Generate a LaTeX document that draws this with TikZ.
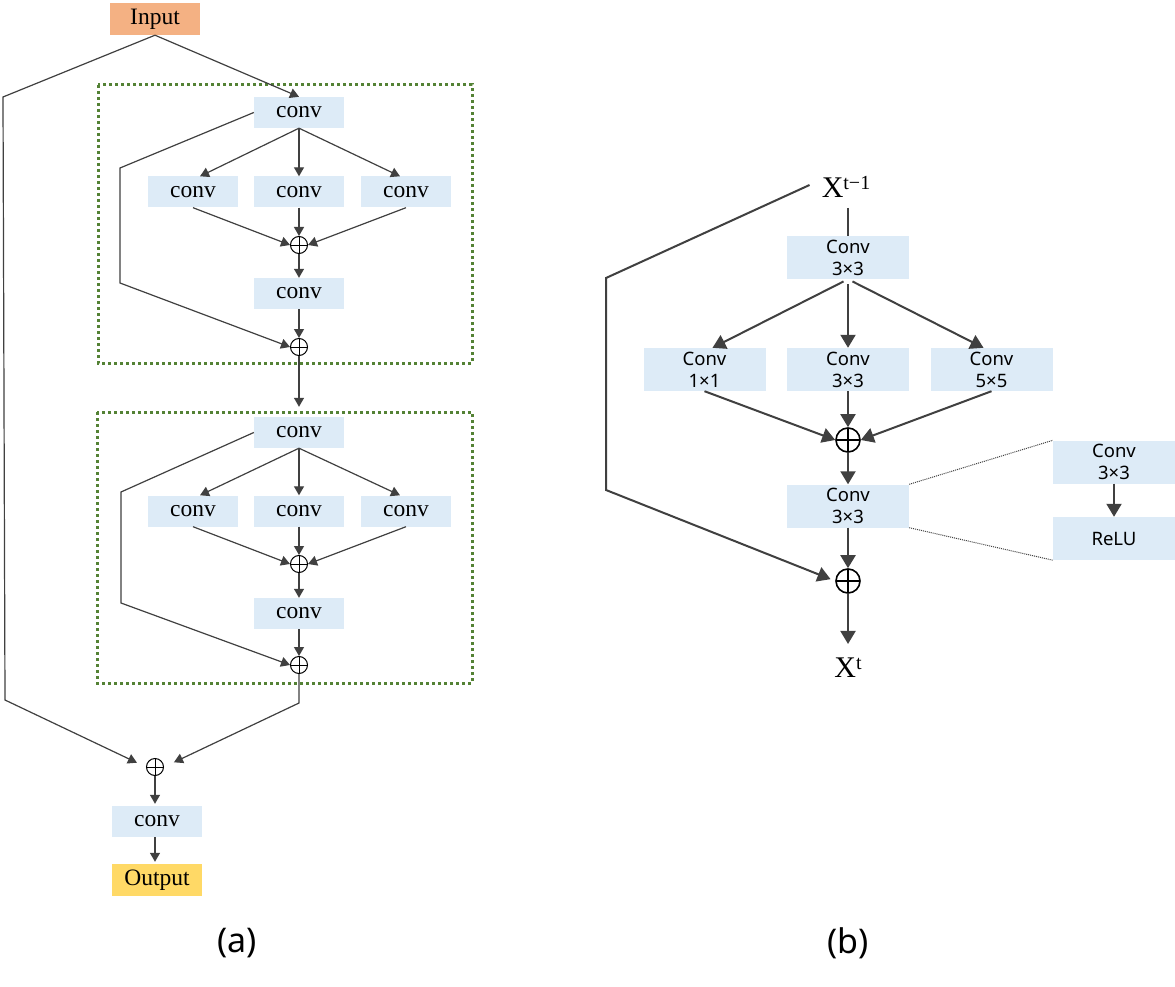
\documentclass[tikz,border=0pt]{standalone}
\usepackage{fontspec}
\setmainfont{Liberation Serif}
\newfontfamily\sansb{Noto Sans}
\usetikzlibrary{arrows.meta,calc}
\definecolor{boxblue}{HTML}{DDEBF7}
\definecolor{inorange}{HTML}{F4B183}
\definecolor{outyellow}{HTML}{FFD966}
\definecolor{dotgreen}{HTML}{548235}
\definecolor{lgray}{HTML}{404040}
\begin{document}
\begin{tikzpicture}[x=1pt,y=-1pt,
  abox/.style={fill=boxblue, minimum width=90pt, minimum height=31pt, inner sep=0pt, font=\fontsize{23.5}{25}\selectfont},
  bbox/.style={fill=boxblue, minimum width=122pt, minimum height=43pt, inner sep=0pt, align=center, font=\sansb\fontsize{18.5}{22}\selectfont},
  aline/.style={draw=lgray, line width=1.2pt},
  aarr/.style={aline, -{Triangle[length=9pt,width=10pt]}},
  bline/.style={draw=lgray, line width=2pt},
  barr/.style={bline, -{Triangle[length=13pt,width=15pt]}},
  asum/.style={circle, draw=black, line width=1pt, minimum size=17pt, inner sep=0pt,
    path picture={\draw[line width=1pt] (path picture bounding box.north) -- (path picture bounding box.south) (path picture bounding box.west) -- (path picture bounding box.east);}},
  bsum/.style={circle, draw=black, line width=1.6pt, minimum size=24pt, inner sep=0pt,
    path picture={\draw[line width=1.6pt] (path picture bounding box.north) -- (path picture bounding box.south) (path picture bounding box.west) -- (path picture bounding box.east);}},
  frame/.style={draw=dotgreen, line width=3pt, dash pattern=on 3pt off 3pt},
  xlabel/.style={font=\fontsize{30}{32}\selectfont, inner sep=2pt},
  panellabel/.style={font=\sansb\fontsize{34}{36}\selectfont}
]
\fill[white] (0,0) rectangle (1175,987);
\useasboundingbox (0,0) rectangle (1175,987);

% ---------- panel (a) ----------
\draw[frame] (98,85) rectangle (472,363);
\draw[frame] (97,412) rectangle (472,683);

\node[fill=inorange, minimum width=90pt, minimum height=32pt, inner sep=0pt, font=\fontsize{23.5}{25}\selectfont] (inp) at (155,19) {Input};
\node[abox] (c1) at (299,112.5) {conv};
\node[abox] (b1l) at (193,192) {conv};
\node[abox] (b1m) at (299,192) {conv};
\node[abox] (b1r) at (406,192) {conv};
\node[asum] (s1) at (299,245) {};
\node[abox] (c2) at (299,293.5) {conv};
\node[asum] (s2) at (299,347) {};

\node[abox] (c3) at (299,432.5) {conv};
\node[abox] (b2l) at (193,511) {conv};
\node[abox] (b2m) at (299,511) {conv};
\node[abox] (b2r) at (406,511) {conv};
\node[asum] (s3) at (299,564) {};
\node[abox] (c4) at (299,613.5) {conv};
\node[asum] (s4) at (299,665) {};

\node[asum] (sf) at (155,767) {};
\node[abox] (cf) at (157,821.5) {conv};
\node[fill=outyellow, minimum width=90pt, minimum height=32pt, inner sep=0pt, font=\fontsize{23.5}{25}\selectfont] (out) at (157,880) {Output};

\draw[aarr] (inp.south) -- (c1.north);
\draw[aarr, shorten >=10pt] (inp.south) -- (3,97) -- (5,700) -- (sf.west);

\draw[aarr] (c1.south) -- ($(b1l.north)+(7,0)$);
\draw[aarr] (c1.south) -- (b1m.north);
\draw[aarr] (c1.south) -- ($(b1r.north)+(-6,0)$);
\draw[aarr] (b1l.south) -- (s1.west);
\draw[aarr] (b1m.south) -- (s1.north);
\draw[aarr] (b1r.south) -- (s1.east);
\draw[aarr] (s1.south) -- (c2.north);
\draw[aarr] (c2.south) -- (s2.north);
\draw[aarr] (c1.west) -- (120,168) -- (120,283) -- (s2.west);
\draw[aarr, shorten >=10pt] (s2.south) -- (c3.north);

\draw[aarr] (c3.south) -- ($(b2l.north)+(7,0)$);
\draw[aarr] (c3.south) -- (b2m.north);
\draw[aarr] (c3.south) -- ($(b2r.north)+(-6,0)$);
\draw[aarr] (b2l.south) -- (s3.west);
\draw[aarr] (b2m.south) -- (s3.north);
\draw[aarr] (b2r.south) -- (s3.east);
\draw[aarr] (s3.south) -- (c4.north);
\draw[aarr] (c4.south) -- (s4.north);
\draw[aarr] (c3.west) -- (121,492) -- (121,603) -- (s4.west);

\draw[aarr, shorten >=11pt] (s4.south) -- (299,703) -- (sf.east);
\draw[aarr, shorten >=2pt] (sf.south) -- (sf.south |- cf.north);
\draw[aarr, shorten >=2pt] (cf.south -| sf.south) -- (sf.south |- out.north);

% ---------- panel (b) ----------
\node[xlabel] (xt1) at (846,187) {X\raisebox{8pt}{\fontsize{20}{20}\selectfont t−1}};
\node[bbox] (cb) at (848,257.5) {Conv\\3×3};
\node[bbox] (bl) at (704.5,369.5) {Conv\\1×1};
\node[bbox] (bm) at (848,369.5) {Conv\\3×3};
\node[bbox] (br) at (991.5,369.5) {Conv\\5×5};
\node[bsum] (s1b) at (848,440) {};
\node[bbox] (cb2) at (848,506) {Conv\\3×3};
\node[bsum] (s2b) at (848,581) {};
\node[xlabel] (xt) at (848,668) {X\raisebox{8pt}{\fontsize{20}{20}\selectfont t}};
\node[bbox] (rc) at (1114,462) {Conv\\3×3};
\node[bbox] (relu) at (1114,538.5) {ReLU};

\draw[bline, shorten <=8pt] (xt1.south -| cb.north) -- (cb.north);
\draw[barr, shorten >=5pt] ($(xt1.west)+(-10,-2)$) -- (606,278) -- (606,490) -- (s2b.west);
\draw[barr, shorten <=5pt] (cb.south) -- ($(bl.north)+(8,0)$);
\draw[barr, shorten <=5pt] (cb.south) -- (bm.north);
\draw[barr, shorten <=5pt] (cb.south) -- ($(br.north)+(-8,0)$);
\draw[barr] (bl.south) -- (s1b.west);
\draw[barr] (bm.south) -- (s1b.north);
\draw[barr] (br.south) -- (s1b.east);
\draw[barr] (s1b.south) -- (cb2.north);
\draw[barr] (cb2.south) -- (s2b.north);
\draw[barr, shorten >=12pt] (s2b.south) -- (xt.north);
\draw[barr] (rc.south) -- (relu.north);
\draw[lgray, line width=1pt, densely dotted] (cb2.north east) -- (rc.north west);
\draw[lgray, line width=1pt, densely dotted] (cb2.south east) -- (relu.south west);

\node[panellabel] (la) at (237,943) {(a)};
\node[panellabel] (lb) at (848,943) {(b)};
\end{tikzpicture}
\end{document}
